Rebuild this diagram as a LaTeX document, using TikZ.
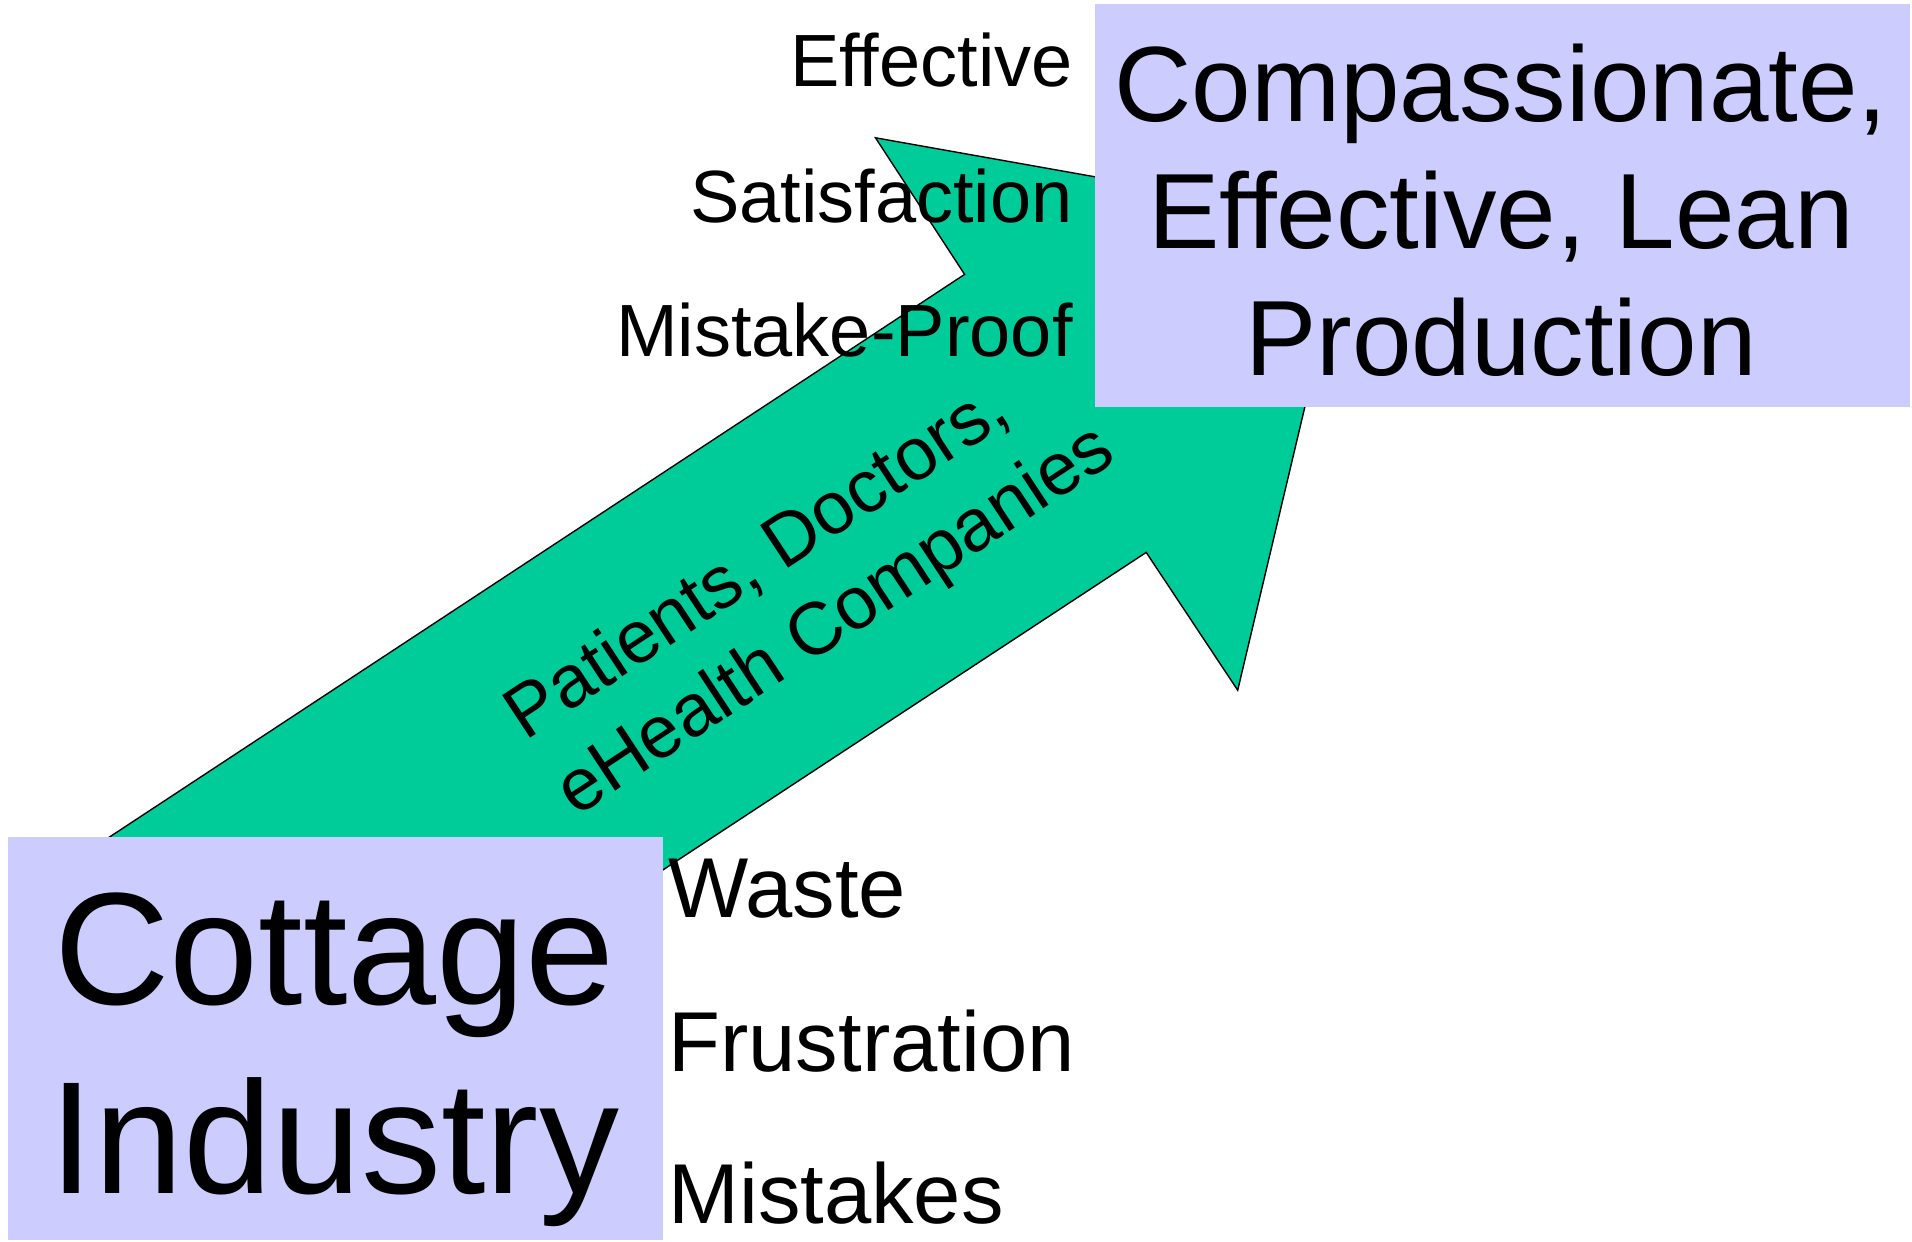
\documentclass[tikz,border=0pt]{standalone}
\usepackage{fontspec}
\setmainfont{Liberation Sans}
\definecolor{arrowgreen}{RGB}{0,204,153}
\definecolor{lavender}{RGB}{204,204,255}
\begin{document}
\begin{tikzpicture}[x=0.5pt,y=-0.5pt,
  arrowshape/.style={fill=arrowgreen,draw=black,line width=0.7pt,line join=miter},
  boxshape/.style={fill=lavender,draw=none,inner sep=0pt,anchor=north west},
  toplabel/.style={font=\fontsize{37}{44}\selectfont,inner sep=0pt,anchor=base east},
  botlabel/.style={font=\fontsize{42.5}{50}\selectfont,inner sep=0pt,anchor=base west},
  bigtext/.style={font=\fontsize{80}{94.5}\selectfont,align=center,inner sep=0pt},
  midtext/.style={font=\fontsize{53.5}{63.4}\selectfont,align=center,inner sep=0pt},
  arrowtext/.style={font=\fontsize{37}{45.8}\selectfont,align=left,inner sep=0pt,anchor=base west,rotate=33.4}]
\useasboundingbox (0,0) rectangle (1912,1242);
% arrow
\coordinate (tA) at (73.2,860.9);
\coordinate (nB) at (964.6,274.4);
\coordinate (hC) at (875.5,137.8);
\coordinate (tip) at (1348.7,221.9);
\coordinate (hE) at (1237.7,690.2);
\coordinate (nF) at (1146.2,552.4);
\coordinate (tG) at (548.7,945);
\draw[arrowshape] (tA) -- (nB) -- (hC) -- (tip) -- (hE) -- (nF) -- (tG) -- cycle;
\node[arrowtext] (actors) at (575.7,817.7) {Patients, Doctors,\\eHealth Companies};
% boxes
\node[boxshape,minimum width=327.4pt,minimum height=201.75pt] (cottage) at (7.3,836.5) {};
\node[bigtext] (cottagetext) at (334.5,1060) {Cottage\\Industry};
\node[boxshape,minimum width=407.3pt,minimum height=201.65pt] (lean) at (1095,3.7) {};
\node[midtext] (leantext) at (1501,210) {Compassionate,\\Effective, Lean\\Production};
% labels
\node[toplabel] (effective) at (1073,86.6) {Effective};
\node[toplabel] (satisfaction) at (1073,222) {Satisfaction};
\node[toplabel] (mistakeproof) at (1073,356) {Mistake-Proof};
\node[botlabel] (waste) at (668,917) {Waste};
\node[botlabel] (frustration) at (668,1071) {Frustration};
\node[botlabel] (mistakes) at (668,1223) {Mistakes};
\end{tikzpicture}
\end{document}
